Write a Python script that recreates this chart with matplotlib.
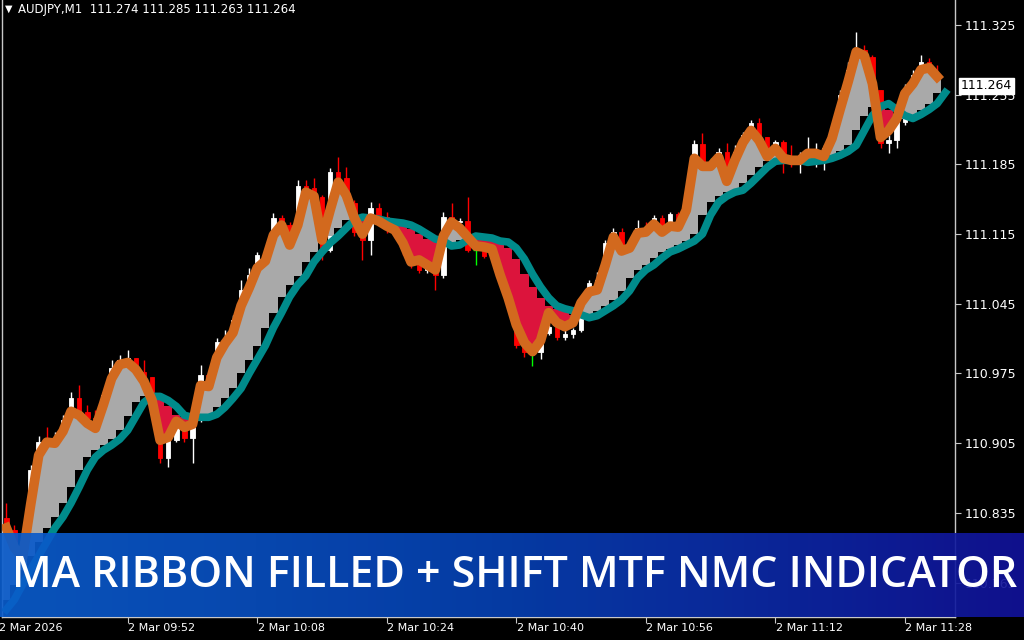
import numpy as np
import matplotlib.pyplot as plt
from matplotlib.transforms import blended_transform_factory
from matplotlib.colors import LinearSegmentedColormap

# AUDJPY M1, 2 Mar 2026, bars 09:37 .. 11:32
open_first = 110.830
closes = [110.818, 110.800, 110.793, 110.878, 110.906, 110.901, 110.908, 110.928, 110.950, 110.936,
          110.930, 110.923, 110.953, 110.981, 110.989, 110.991, 110.976, 110.971, 110.953, 110.890,
          110.908, 110.920, 110.910, 110.928, 110.973, 110.968, 111.007, 111.009, 111.029, 111.059,
          111.074, 111.094, 111.091, 111.131, 111.124, 111.111, 111.163, 111.161, 111.152, 111.099,
          111.177, 111.171, 111.146, 111.117, 111.109, 111.141, 111.132, 111.121, 111.117, 111.099,
          111.084, 111.079, 111.089, 111.074, 111.132, 111.127, 111.128, 111.099, 111.099, 111.093,
          111.099, 111.069, 111.044, 111.004, 110.997, 110.997, 111.016, 111.022, 111.012, 111.015,
          111.019, 111.049, 111.066, 111.069, 111.106, 111.117, 111.103, 111.106, 111.121, 111.119,
          111.131, 111.122, 111.135, 111.127, 111.149, 111.205, 111.186, 111.186, 111.197, 111.181,
          111.197, 111.214, 111.227, 111.212, 111.196, 111.207, 111.192, 111.186, 111.187, 111.193,
          111.199, 111.201, 111.219, 111.255, 111.280, 111.300, 111.293, 111.260, 111.206, 111.209,
          111.228, 111.262, 111.275, 111.288, 111.274, 111.264]
highs = [110.845, 110.823, 110.808, 110.883, 110.912, 110.921, 110.916, 110.933, 110.956, 110.963,
         110.943, 110.938, 110.956, 110.989, 110.994, 110.999, 110.991, 110.989, 110.968, 110.953,
         110.912, 110.923, 110.938, 110.931, 110.984, 110.977, 111.011, 111.019, 111.034, 111.069,
         111.081, 111.097, 111.099, 111.136, 111.134, 111.127, 111.169, 111.169, 111.171, 111.154,
         111.181, 111.192, 111.182, 111.149, 111.119, 111.147, 111.146, 111.137, 111.124, 111.119,
         111.101, 111.091, 111.091, 111.092, 111.137, 111.146, 111.131, 111.152, 111.099, 111.099,
         111.104, 111.101, 111.071, 111.046, 111.007, 110.999, 111.025, 111.024, 111.024, 111.019,
         111.021, 111.053, 111.069, 111.077, 111.109, 111.121, 111.121, 111.109, 111.129, 111.127,
         111.134, 111.134, 111.137, 111.137, 111.153, 111.209, 111.216, 111.191, 111.201, 111.206,
         111.204, 111.217, 111.230, 111.232, 111.211, 111.209, 111.209, 111.204, 111.197, 111.212,
         111.206, 111.204, 111.224, 111.260, 111.288, 111.318, 111.305, 111.295, 111.258, 111.214,
         111.232, 111.266, 111.280, 111.295, 111.292, 111.285]
lows = [110.813, 110.793, 110.778, 110.793, 110.873, 110.898, 110.898, 110.906, 110.926, 110.933,
        110.923, 110.918, 110.920, 110.950, 110.977, 110.983, 110.970, 110.963, 110.948, 110.885,
        110.881, 110.906, 110.906, 110.885, 110.926, 110.960, 110.966, 111.001, 111.007, 111.027,
        111.057, 111.071, 111.084, 111.089, 111.121, 111.104, 111.109, 111.154, 111.149, 111.089,
        111.097, 111.167, 111.144, 111.113, 111.089, 111.094, 111.129, 111.116, 111.111, 111.094,
        111.081, 111.076, 111.076, 111.059, 111.071, 111.124, 111.116, 111.097, 111.084, 111.091,
        111.091, 111.064, 111.039, 111.001, 110.992, 110.983, 110.990, 111.014, 111.009, 111.009,
        111.011, 111.017, 111.047, 111.061, 111.067, 111.104, 111.099, 111.099, 111.104, 111.113,
        111.117, 111.119, 111.119, 111.125, 111.125, 111.147, 111.183, 111.183, 111.184, 111.179,
        111.179, 111.195, 111.212, 111.209, 111.193, 111.194, 111.176, 111.182, 111.176, 111.189,
        111.182, 111.179, 111.197, 111.217, 111.252, 111.278, 111.290, 111.255, 111.201, 111.196,
        111.201, 111.224, 111.258, 111.272, 111.273, 111.263]

# fast MA (orange) and shifted MTF MA (teal, one bar longer)
ma_fast = [110.820, 110.800, 110.790, 110.843, 110.893, 110.906, 110.905, 110.917, 110.937, 110.933,
           110.925, 110.920, 110.944, 110.970, 110.984, 110.986, 110.979, 110.967, 110.948, 110.908,
           110.911, 110.927, 110.921, 110.924, 110.963, 110.962, 110.991, 111.005, 111.016, 111.043,
           111.061, 111.081, 111.088, 111.114, 111.124, 111.104, 111.124, 111.157, 111.153, 111.109,
           111.139, 111.167, 111.154, 111.131, 111.115, 111.131, 111.128, 111.123, 111.119, 111.106,
           111.087, 111.089, 111.084, 111.079, 111.113, 111.127, 111.121, 111.112, 111.103, 111.102,
           111.100, 111.074, 111.051, 111.024, 111.006, 110.997, 111.008, 111.036, 111.026, 111.022,
           111.026, 111.046, 111.057, 111.059, 111.084, 111.112, 111.098, 111.101, 111.116, 111.117,
           111.125, 111.117, 111.123, 111.122, 111.139, 111.191, 111.183, 111.183, 111.192, 111.168,
           111.189, 111.207, 111.219, 111.209, 111.193, 111.201, 111.191, 111.189, 111.189, 111.196,
           111.196, 111.193, 111.211, 111.240, 111.268, 111.298, 111.294, 111.266, 111.212, 111.219,
           111.231, 111.256, 111.266, 111.280, 111.282, 111.273]
ma_mtf = [110.738, 110.748, 110.763, 110.778, 110.792, 110.806, 110.820, 110.831, 110.845, 110.861,
          110.878, 110.891, 110.898, 110.903, 110.909, 110.918, 110.932, 110.946, 110.952, 110.952,
          110.948, 110.942, 110.933, 110.931, 110.931, 110.931, 110.934, 110.941, 110.950, 110.960,
          110.975, 110.989, 111.003, 111.021, 111.036, 111.052, 111.064, 111.073, 111.087, 111.097,
          111.106, 111.113, 111.121, 111.129, 111.132, 111.131, 111.130, 111.128, 111.127, 111.126,
          111.124, 111.120, 111.115, 111.110, 111.108, 111.103, 111.104, 111.109, 111.113, 111.112,
          111.111, 111.108, 111.107, 111.101, 111.090, 111.075, 111.062, 111.051, 111.043, 111.040,
          111.038, 111.034, 111.031, 111.033, 111.038, 111.043, 111.049, 111.058, 111.071, 111.079,
          111.084, 111.091, 111.097, 111.100, 111.104, 111.108, 111.115, 111.134, 111.147, 111.153,
          111.157, 111.159, 111.166, 111.174, 111.182, 111.188, 111.189, 111.189, 111.189, 111.187,
          111.188, 111.189, 111.191, 111.194, 111.198, 111.204, 111.219, 111.234, 111.243, 111.246,
          111.240, 111.234, 111.231, 111.235, 111.240, 111.246, 111.257]

tick_bars = [-1, 15, 31, 47, 63, 79, 95, 111]
tick_text = ['2 Mar 2026', '2 Mar 09:52', '2 Mar 10:08', '2 Mar 10:24',
             '2 Mar 10:40', '2 Mar 10:56', '2 Mar 11:12', '2 Mar 11:28']
price_ticks = [110.765, 110.835, 110.905, 110.975, 111.045, 111.115, 111.185, 111.255, 111.325]
last_price = 111.264
header = 'AUDJPY,M1  111.274 111.285 111.263 111.264'
banner = 'MA RIBBON FILLED + SHIFT MTF NMC INDICATOR'

fig = plt.figure(figsize=(10.24, 6.4), dpi=100, facecolor='black')
ax = fig.add_axes([2/1024, 23/640, 953/1024, 617/640])
ax.set_facecolor('black')

n = len(closes)
x = np.arange(n)
c = np.array(closes)
o = np.r_[open_first, c[:-1]]
h = np.maximum(np.array(highs), np.maximum(o, c))
l = np.minimum(np.array(lows), np.minimum(o, c))

up = c > o
dn = c < o
dj = c == o
cols = np.where(up, 'white', np.where(dn, '#ff0000', '#00ff00'))

# candles
ax.vlines(x, l, h, colors=cols, lw=1, zorder=1)
ax.bar(x[~dj], np.abs(c - o)[~dj], bottom=np.minimum(o, c)[~dj], width=0.55,
       color=cols[~dj], edgecolor=cols[~dj], lw=0.6, zorder=1)
ax.hlines(c[dj], x[dj] - 0.3, x[dj] + 0.3, colors='#00ff00', lw=1, zorder=1)

# ribbon fill, per bar, against the shifted MTF line
fast = np.array(ma_fast)
ref = np.array(ma_mtf[1:n + 1])
bot = np.minimum(fast, ref)
fill_cols = np.where(fast >= ref, '#a9a9a9', '#dc143c')
ax.bar(x, np.abs(fast - ref), bottom=bot, width=1.02, color=fill_cols, lw=0, zorder=2)

ax.plot(np.arange(len(ma_mtf)), ma_mtf, color='#008b8b', lw=5.5, zorder=3,
        solid_joinstyle='round')
ax.plot(x, fast, color='#d2691e', lw=7, zorder=4, solid_joinstyle='round')

ax.set_xlim(-0.536, 117.2)
ax.set_ylim(110.7305, 111.350)

ax.spines['top'].set_visible(False)
for s in ['left', 'right', 'bottom']:
    ax.spines[s].set_color('#c8c8c8')
    ax.spines[s].set_linewidth(1)

ax.yaxis.tick_right()
ax.set_yticks(price_ticks)
ax.set_yticklabels([f'{p:.3f}' for p in price_ticks])
ax.tick_params(axis='y', colors='#c8c8c8', labelcolor='white', labelsize=9, length=4, pad=3)
ax.set_xticks(tick_bars[1:])
ax.set_xticklabels([])
ax.tick_params(axis='x', colors='#c8c8c8', length=4)

tr = blended_transform_factory(ax.transData, ax.transAxes)
for b, t in zip(tick_bars, tick_text):
    ax.text(b + 0.05, -0.009, t, transform=tr, ha='left', va='top', color='white',
            fontsize=8, clip_on=False)

# current price tag
tr2 = blended_transform_factory(ax.transAxes, ax.transData)
ax.text(1.006, last_price, f'{last_price:.3f}', transform=tr2, ha='left', va='center',
        fontsize=9, color='black', zorder=10, clip_on=False,
        bbox=dict(facecolor='white', edgecolor='white', pad=1.2))

fig.text(5/1024, 1 - 9/640, '\u25bc', color='white', fontsize=7, va='center', ha='left')
fig.text(18/1024, 1 - 10/640, header, color='white', fontsize=8.5, va='center', ha='left')

# banner
bax = fig.add_axes([0, 23/640, 1, 84/640])
bax.set_zorder(5)
grad = np.linspace(0, 1, 256).reshape(1, -1)
cmap = LinearSegmentedColormap.from_list('ban', ['#0a5ccc', '#0640b2', '#12129a'])
bax.imshow(grad, aspect='auto', cmap=cmap, extent=[0, 1, 0, 1], alpha=0.92)
bax.set_xlim(0, 1)
bax.set_ylim(0, 1)
bax.axis('off')
btxt = bax.text(12/1024, 30/84, banner, ha='left', va='baseline', color='white', fontsize=30,
                family='Open Sans', weight='semibold')
# fit the title to the banner width (about 1006 px wide)
fig.canvas.draw()
w = btxt.get_window_extent(fig.canvas.get_renderer()).width
btxt.set_fontsize(30 * 1006 / w)

fig.savefig('out.png', dpi=100, facecolor='black')
